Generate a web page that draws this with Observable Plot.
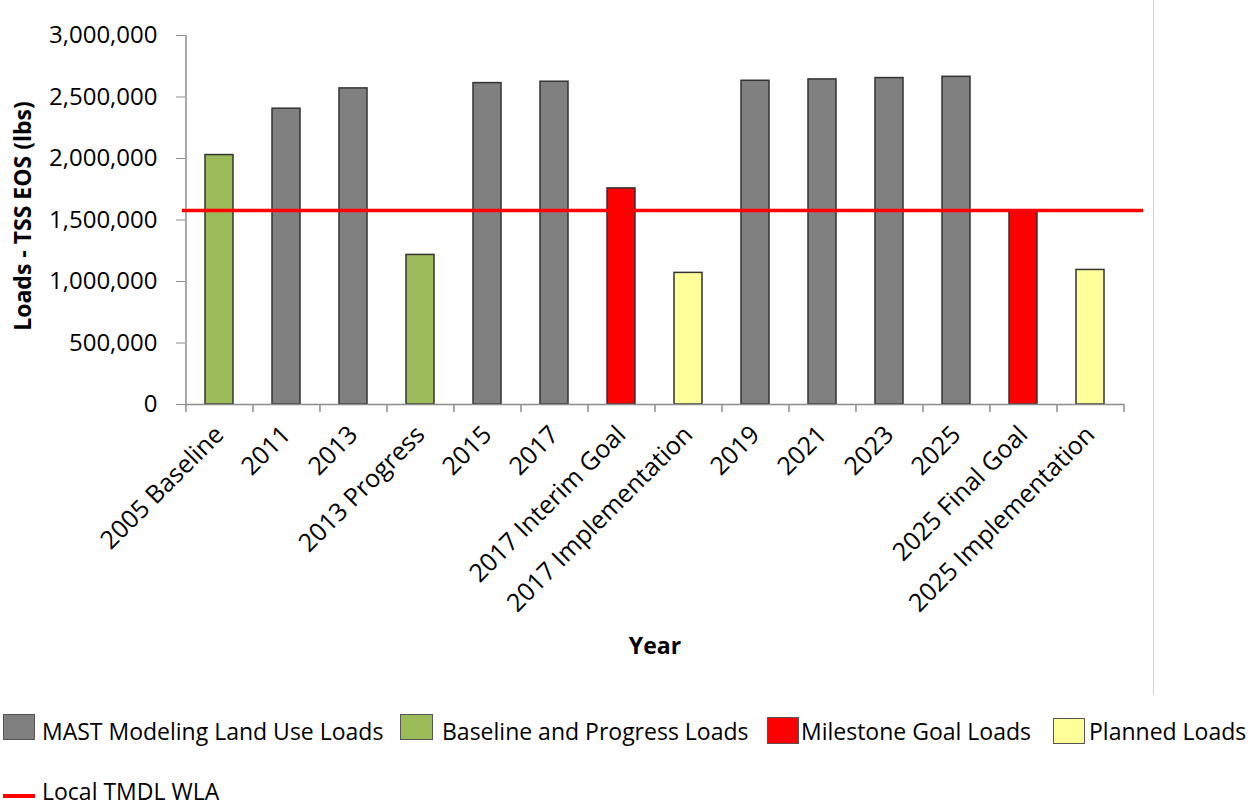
<!DOCTYPE html>
<html><head><meta charset="utf-8">
<script src="https://cdn.jsdelivr.net/npm/d3@7"></script>
<script src="https://cdn.jsdelivr.net/npm/@observablehq/plot@0.6"></script>
<style>
body{margin:0;background:#fff;font-family:"Open Sans",sans-serif;}
#wrap{position:relative;width:1259px;height:809px;overflow:hidden;background:#fff;}
#chart{position:absolute;left:0;top:0;}
.sw{position:absolute;box-sizing:border-box;border:1.5px solid #555;}
.lt{position:absolute;font-size:23px;line-height:23px;color:#000;white-space:nowrap;}
#vline{position:absolute;left:1153px;top:0;width:1px;height:695px;background:#d0d0d0;}
</style></head><body><div id="wrap"><div id="chart"></div><div id="vline"></div></div>
<script>
const categories = ["2005 Baseline","2011","2013","2013 Progress","2015","2017","2017 Interim Goal","2017 Implementation","2019","2021","2023","2025","2025 Final Goal","2025 Implementation"];
const loads = [2028000, 2405000, 2570000, 1216000, 2613000, 2624000, 1757000, 1070000, 2632000, 2643000, 2654000, 2664000, 1570000, 1094000];
const loadTypes = ["Baseline and Progress Loads","MAST Modeling Land Use Loads","MAST Modeling Land Use Loads","Baseline and Progress Loads","MAST Modeling Land Use Loads","MAST Modeling Land Use Loads","Milestone Goal Loads","Planned Loads","MAST Modeling Land Use Loads","MAST Modeling Land Use Loads","MAST Modeling Land Use Loads","MAST Modeling Land Use Loads","Milestone Goal Loads","Planned Loads"];
const typeNames = ["MAST Modeling Land Use Loads","Baseline and Progress Loads","Milestone Goal Loads","Planned Loads"];
const typeColors = ["#808080","#9BBB59","#FF0000","#FFFF99"];
const tmdlWLA = 1578000;
const tmdlName = "Local TMDL WLA";
const yTicks = [0, 500000, 1000000, 1500000, 2000000, 2500000, 3000000];
const yTitle = "Loads - TSS EOS (lbs)";
const xTitle = "Year";

const rows = categories.map((c, i) => ({cat: c, load: loads[i], type: loadTypes[i]}));

const W = 1259, H = 700, mL = 185, mR = 135, mT = 35, mB = 296;
const step = (W - mL - mR) / categories.length;
const axisGray = "#8c8c8c";

const chart = Plot.plot({
  width: W, height: H,
  marginLeft: mL, marginRight: mR, marginTop: mT, marginBottom: mB,
  style: {fontFamily: "Open Sans", background: "white", overflow: "visible"},
  x: {type: "band", domain: categories, paddingInner: 0.58, paddingOuter: 0.29, label: null},
  y: {domain: [0, 3000000], label: null},
  color: {domain: typeNames, range: typeColors},
  marks: [
    Plot.barY(rows, {x: "cat", y: "load", fill: "type", stroke: "#333", strokeWidth: 1.5, inset: 0}),
    Plot.ruleY([0], {stroke: axisGray, strokeWidth: 1.5}),
    Plot.ruleX([categories[0]], {x: d => d, y1: 0, y2: 3000000, dx: -step / 2, stroke: axisGray, strokeWidth: 1.5}),
    Plot.ruleX(categories, {x: d => d, y1: 0, y2: 0, insetBottom: -8, dx: -step / 2, stroke: axisGray, strokeWidth: 1.5}),
    Plot.ruleX([categories[categories.length - 1]], {x: d => d, y1: 0, y2: 0, insetBottom: -8, dx: step / 2, stroke: axisGray, strokeWidth: 1.5}),
    Plot.ruleY([tmdlWLA], {stroke: "#FF0000", strokeWidth: 3.5, insetLeft: -3, insetRight: -19}),
    Plot.axisY({ticks: yTicks, tickSize: 9, tickPadding: 19, tickFormat: d3.format(","), fontSize: 24, stroke: axisGray, label: null}),
    Plot.axisX({tickSize: 0, tickPadding: 26, tickRotate: -45, fontSize: 25, label: null}),
    Plot.text([yTitle], {frameAnchor: "left", rotate: -90, dx: -162, dy: -4, fontSize: 23, fontWeight: "bold", textAnchor: "middle", lineAnchor: "middle"}),
    Plot.text([xTitle], {frameAnchor: "bottom", dy: 242, fontSize: 23, fontWeight: "bold", textAnchor: "middle", lineAnchor: "middle"})
  ]
});
document.getElementById("chart").appendChild(chart);

// Legend (HTML, below the plot)
const wrap = document.getElementById("wrap");
const legendItems = [
  {name: typeNames[0], color: typeColors[0], sx: 3, sy: 714, sw: 32, sh: 26, tx: 42},
  {name: typeNames[1], color: typeColors[1], sx: 400, sy: 714, sw: 33, sh: 26, tx: 442},
  {name: typeNames[2], color: typeColors[2], sx: 767, sy: 717, sw: 32, sh: 27, tx: 801},
  {name: typeNames[3], color: typeColors[3], sx: 1053, sy: 718, sw: 32, sh: 26, tx: 1089}
];
for (const it of legendItems) {
  const s = document.createElement("div");
  s.className = "sw";
  s.style.cssText = `left:${it.sx}px;top:${it.sy}px;width:${it.sw}px;height:${it.sh}px;background:${it.color};`;
  wrap.appendChild(s);
  const t = document.createElement("div");
  t.className = "lt";
  t.style.left = it.tx + "px";
  t.style.top = "720px";
  t.textContent = it.name;
  wrap.appendChild(t);
}
const ls = document.createElement("div");
ls.style.cssText = "position:absolute;left:3px;top:794px;width:32px;height:4px;background:#FF0000;";
wrap.appendChild(ls);
const lt = document.createElement("div");
lt.className = "lt";
lt.style.left = "42px";
lt.style.top = "780px";
lt.textContent = tmdlName;
wrap.appendChild(lt);
</script>
</body></html>
